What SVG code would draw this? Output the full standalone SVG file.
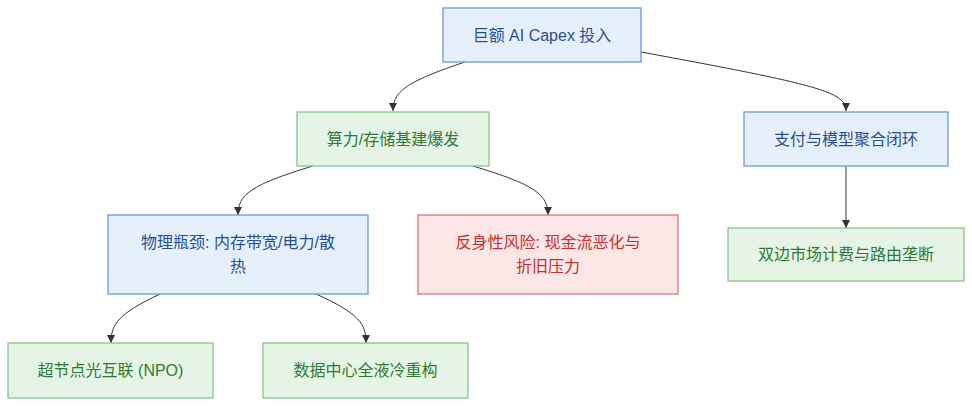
<svg xmlns="http://www.w3.org/2000/svg" width="972" height="406" viewBox="0 0 972 406">
<style>
  text { font-family: "Liberation Sans", "Noto Sans CJK SC", sans-serif; font-size: 16px; text-anchor: middle; dominant-baseline: central; }
  .blue rect { fill: #e6effc; stroke: #6b9ad9; stroke-width: 1.3; }
  .blue text { fill: #2a4f91; }
  .green rect { fill: #e5f4e5; stroke: #86c78a; stroke-width: 1.3; }
  .green text { fill: #2e7a35; }
  .red rect { fill: #fce6e6; stroke: #de7675; stroke-width: 1.3; }
  .red text { fill: #c5302e; }
  .edges path { fill: none; stroke: #333; stroke-width: 1; }
</style>
<defs>
  <marker id="arrow" viewBox="0 0 10 10" refX="10" refY="5" markerWidth="8" markerHeight="8" markerUnits="userSpaceOnUse" orient="auto">
    <path d="M0,0 L10,5 L0,10 z" fill="#333"/>
  </marker>
</defs>
<rect width="972" height="406" fill="#ffffff"/>
<g class="edges">
  <path d="M465,62 C405,82 393,92 393,111" marker-end="url(#arrow)"/>
  <path d="M641,52 C820,85 846,92 846,111" marker-end="url(#arrow)"/>
  <path d="M313,166 C250,185 238,195 238,215" marker-end="url(#arrow)"/>
  <path d="M473,166 C536,185 548,195 548,215" marker-end="url(#arrow)"/>
  <path d="M846,166 L846,228" marker-end="url(#arrow)"/>
  <path d="M160,294 C118,314 111,324 111,343" marker-end="url(#arrow)"/>
  <path d="M316,294 C360,314 366,324 366,343" marker-end="url(#arrow)"/>
</g>
<g id="capex" class="blue">
  <rect x="443" y="8" width="198" height="54"/>
  <text x="542" y="35">巨额 AI Capex 投入</text>
</g>
<g id="compute" class="green">
  <rect x="297" y="112" width="192" height="54"/>
  <text x="393" y="139">算力/存储基建爆发</text>
</g>
<g id="payment" class="blue">
  <rect x="744" y="112" width="204" height="54"/>
  <text x="846" y="139">支付与模型聚合闭环</text>
</g>
<g id="bottleneck" class="blue">
  <rect x="108" y="215" width="260" height="79"/>
  <text x="238" y="242">物理瓶颈: 内存带宽/电力/散</text>
  <text x="238" y="266">热</text>
</g>
<g id="risk" class="red">
  <rect x="418" y="215" width="260" height="79"/>
  <text x="548" y="242">反身性风险: 现金流恶化与</text>
  <text x="548" y="266">折旧压力</text>
</g>
<g id="market" class="green">
  <rect x="728" y="228" width="236" height="53"/>
  <text x="846" y="254.5">双边市场计费与路由垄断</text>
</g>
<g id="npo" class="green">
  <rect x="8" y="343" width="205" height="55"/>
  <text x="110.5" y="370.5">超节点光互联 (NPO)</text>
</g>
<g id="cooling" class="green">
  <rect x="263" y="343" width="205" height="55"/>
  <text x="365.5" y="370.5">数据中心全液冷重构</text>
</g>
</svg>
